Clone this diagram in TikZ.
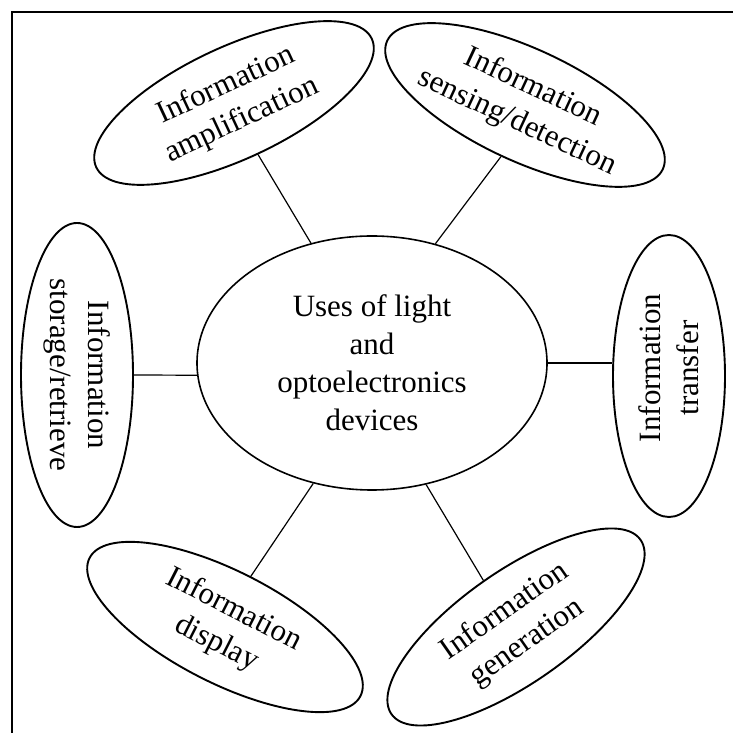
\documentclass[tikz,border=0pt]{standalone}
\usepackage{fontspec}
\setmainfont{Liberation Serif}
\usetikzlibrary{shapes.geometric}
\begin{document}
\begin{tikzpicture}[x=1pt,y=1pt,
  oval/.style={draw, ellipse, line width=1.9pt, inner sep=0pt,
               minimum width=304pt, minimum height=112pt},
  hub/.style={draw, ellipse, line width=1.6pt, inner sep=0pt,
              minimum width=350pt, minimum height=254pt},
  lbl/.style={align=center, inner sep=0pt, font=\fontsize{31}{38}\selectfont},
  link/.style={line width=1.2pt}]
\useasboundingbox (0,0) rectangle (733,733);
% frame along the top and left edges
\draw[line width=2.5pt] (12,0) -- (12,721) -- (733,721);

% central ellipse
\node[hub] (cen) at (372,370) {};
\node[lbl] (cent) at (cen) {Uses of light\\and\\optoelectronics\\devices};

% surrounding ellipses
\node[oval, rotate=25] (amp) at (234,630) {};
\node[lbl, rotate=25] (ampt) at (amp) {Information\\amplification};

\node[oval, rotate=-25] (sens) at (525,628) {};
\node[lbl, rotate=-25] (senst) at (sens) {Information\\sensing/detection};

\node[oval, rotate=-90] (stor) at (77,358) {};
\node[lbl, rotate=-90] (stort) at (stor) {Information\\storage/retrieve};

\node[oval, rotate=90, minimum width=282pt] (trans) at (669,357) {};
\node[lbl, rotate=90] (transt) at ([yshift=8pt]trans.center) {Information\\transfer};

\node[oval, rotate=-27] (disp) at (225,106) {};
\node[lbl, rotate=-27] (dispt) at (disp) {Information\\display};

\node[oval, rotate=35] (gen) at (516,106) {};
\node[lbl, rotate=35] (gent) at (gen) {Information\\generation};

% connectors
\draw[link] (amp.south) -- (cen.117);
\draw[link] (sens.south) -- (cen.62);
\draw[link] (stor.north) -- (cen.184);
\draw[link] (cen.east) -- (cen.east -| trans.north);
\draw[link] (disp.north) -- (cen.244);
\draw[link] (gen.north) -- (cen.294);
\end{tikzpicture}
\end{document}
